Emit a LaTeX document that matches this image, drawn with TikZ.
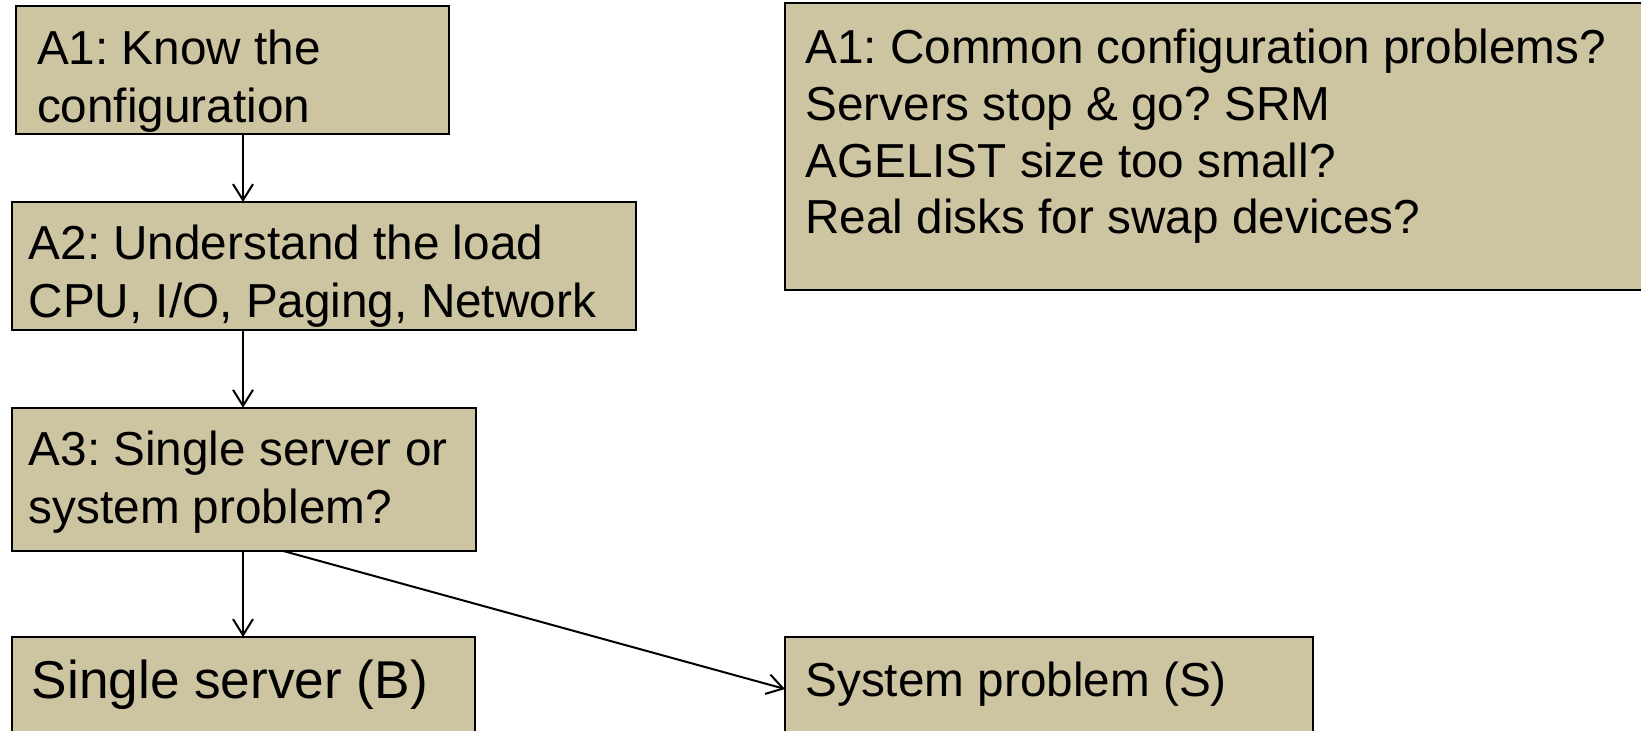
\documentclass[tikz,border=0pt]{standalone}
\usepackage{fontspec}
\setmainfont{Liberation Sans}
\usetikzlibrary{arrows.meta}
\definecolor{boxfill}{RGB}{205,196,161}
\frenchspacing
\begin{document}
\begin{tikzpicture}[x=0.5pt,y=-0.5pt,
  box/.style={draw=black,line width=1pt,fill=boxfill,anchor=north west,inner sep=0pt,outer sep=0pt},
  txt/.style={anchor=base west,inner sep=0pt,font=\fontsize{23.85pt}{28.5pt}\selectfont},
  bigtxt/.style={anchor=base west,inner sep=0pt,font=\fontsize{26.6pt}{31pt}\selectfont},
  conn/.style={line width=1pt,-{Straight Barb[length=8pt,width=10pt,line width=1pt]}}]
\useasboundingbox (0,0) rectangle (1641,731);
\clip (0,0) rectangle (1641,731);
% boxes
\node[box,minimum width=216.4pt,minimum height=63.8pt] (a1) at (15.7,6.3) {};
\node[box,minimum width=312.2pt,minimum height=64pt] (a2) at (11.5,202) {};
\node[box,minimum width=232.1pt,minimum height=71.6pt] (a3) at (11.5,407.7) {};
\node[box,minimum width=231.6pt,minimum height=70pt] (b) at (11.5,637) {};
\node[box,minimum width=264pt,minimum height=70pt] (s) at (785,637) {};
\node[box,minimum width=440pt,minimum height=143.5pt] (r) at (785,3) {};
% texts
\node[txt] (a1l1) at (36.7,65) {A1: Know the};
\node[txt] (a1l2) at (36.7,123) {configuration};
\node[txt] (a2l1) at (28.3,260) {A2: Understand the load};
\node[txt] (a2l2) at (28.3,318) {CPU, I/O, Paging, Network};
\node[txt] (a3l1) at (28.3,465.5) {A3: Single server or};
\node[txt] (a3l2) at (28.3,523) {system problem?};
\node[bigtxt] (bl) at (31.4,698) {Single server (B)};
\node[txt] (sl) at (805,696) {System problem (S)};
\node[txt] (rl1) at (805,64) {A1: Common configuration problems?};
\node[txt] (rl2) at (805,120.7) {Servers stop \& go? SRM};
\node[txt] (rl3) at (805,177.4) {AGELIST size too small?};
\node[txt] (rl4) at (805,234) {Real disks for swap devices?};
% connectors
\draw[conn] (a1.south -| 243,0) -- (a2.north -| 243,0);
\draw[conn] (a2.south -| 243,0) -- (a3.north -| 243,0);
\draw[conn] (a3.south -| 243,0) -- (b.north -| 243,0);
\draw[conn] (a3.south -| 283,0) -- (s.west |- 0,689);
\end{tikzpicture}
\end{document}
